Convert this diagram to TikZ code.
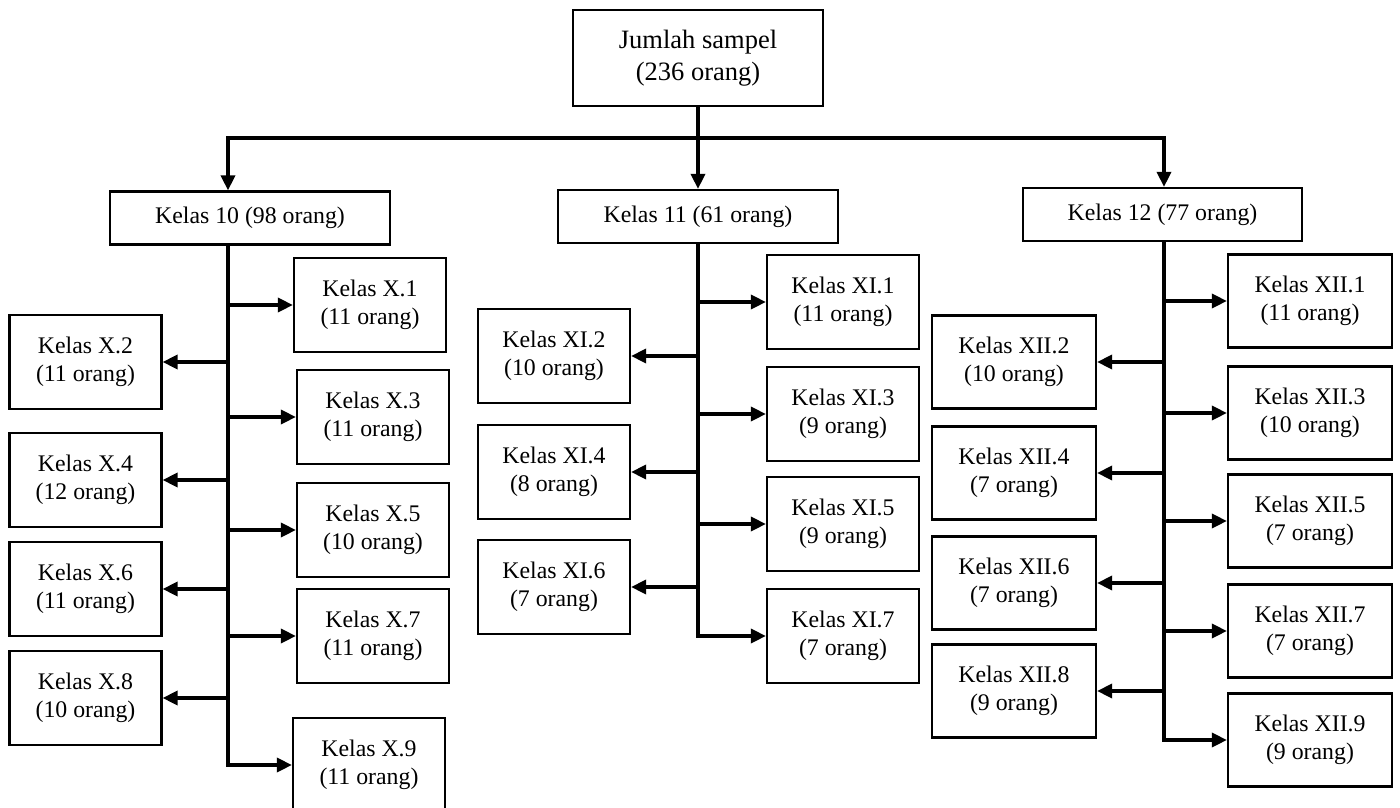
\documentclass[tikz,border=0pt]{standalone}
\usepackage{fontspec}
\setmainfont{Liberation Serif}
\usetikzlibrary{arrows.meta}
\tikzset{box/.style={draw,line width=2.2pt,align=center,inner sep=0pt,minimum width=152pt,minimum height=94pt,font=\fontsize{23.8}{28}\selectfont},grade/.style={box,minimum width=280pt,minimum height=53pt},widebox/.style={box,minimum width=164pt,minimum height=93pt},line/.style={line width=3.4pt},arrow/.style={line,-{Triangle[length=15pt,width=14pt]}}}

\begin{document}
\begin{tikzpicture}[x=1pt,y=-1pt]
\useasboundingbox (0,0) rectangle (1400,808);
\node[box,minimum width=250pt,minimum height=96pt,font=\fontsize{26.5}{32}\selectfont] (top) at (698,58) {Jumlah sampel\\(236 orang)};
\node[grade] (k10) at (250,218) {Kelas 10 (98 orang)};
\node[grade] (k11) at (698,216.5) {Kelas 11 (61 orang)};
\node[grade,minimum width=279pt] (k12) at (1162.5,214.5) {Kelas 12 (77 orang)};
% kelas 10
\node[box] (x1) at (370,305) {Kelas X.1\\(11 orang)};
\node[box] (x2) at (85.5,362) {Kelas X.2\\(11 orang)};
\node[box] (x3) at (373,417) {Kelas X.3\\(11 orang)};
\node[box] (x4) at (85.5,480) {Kelas X.4\\(12 orang)};
\node[box] (x5) at (373,530) {Kelas X.5\\(10 orang)};
\node[box] (x6) at (85.5,589) {Kelas X.6\\(11 orang)};
\node[box] (x7) at (373,636) {Kelas X.7\\(11 orang)};
\node[box] (x8) at (85.5,698) {Kelas X.8\\(10 orang)};
\node[box] (x9) at (369,765) {Kelas X.9\\(11 orang)};
% kelas 11
\node[box] (xi1) at (843,302) {Kelas XI.1\\(11 orang)};
\node[box] (xi2) at (554,356) {Kelas XI.2\\(10 orang)};
\node[box] (xi3) at (843,414) {Kelas XI.3\\(9 orang)};
\node[box] (xi4) at (554,472) {Kelas XI.4\\(8 orang)};
\node[box] (xi5) at (843,524) {Kelas XI.5\\(9 orang)};
\node[box] (xi6) at (554,587) {Kelas XI.6\\(7 orang)};
\node[box] (xi7) at (843,636) {Kelas XI.7\\(7 orang)};
% kelas 12
\node[widebox] (xii1) at (1310,301) {Kelas XII.1\\(11 orang)};
\node[widebox] (xii2) at (1014,362) {Kelas XII.2\\(10 orang)};
\node[widebox] (xii3) at (1310,413) {Kelas XII.3\\(10 orang)};
\node[widebox] (xii4) at (1014,473) {Kelas XII.4\\(7 orang)};
\node[widebox] (xii5) at (1310,521) {Kelas XII.5\\(7 orang)};
\node[widebox] (xii6) at (1014,583) {Kelas XII.6\\(7 orang)};
\node[widebox] (xii7) at (1310,631) {Kelas XII.7\\(7 orang)};
\node[widebox] (xii8) at (1014,691) {Kelas XII.8\\(9 orang)};
\node[widebox] (xii9) at (1310,740) {Kelas XII.9\\(9 orang)};
% spines
\coordinate (split) at (698,138);
\coordinate (s10) at (228,0);
\coordinate (s11) at (698,0);
\coordinate (s12) at (1164,0);
\draw[line] (top.south) -- (split);
\draw[arrow] (split) -| (k10.north -| s10);
\draw[arrow] (split) -- (k11);
\draw[arrow] (split) -| (k12.north -| s12);
\draw[arrow] (k10.south -| s10) |- (x9.west);
\draw[arrow] (k11.south -| s11) |- (xi7.west);
\draw[arrow] (k12.south -| s12) |- (xii9.west);
\foreach \n in {x1,x3,x5,x7} \draw[arrow] (\n.west -| s10) -- (\n.west);
\foreach \n in {x2,x4,x6,x8} \draw[arrow] (\n.east -| s10) -- (\n.east);
\foreach \n in {xi1,xi3,xi5} \draw[arrow] (\n.west -| s11) -- (\n.west);
\foreach \n in {xi2,xi4,xi6} \draw[arrow] (\n.east -| s11) -- (\n.east);
\foreach \n in {xii1,xii3,xii5,xii7} \draw[arrow] (\n.west -| s12) -- (\n.west);
\foreach \n in {xii2,xii4,xii6,xii8} \draw[arrow] (\n.east -| s12) -- (\n.east);
\end{tikzpicture}
\end{document}
